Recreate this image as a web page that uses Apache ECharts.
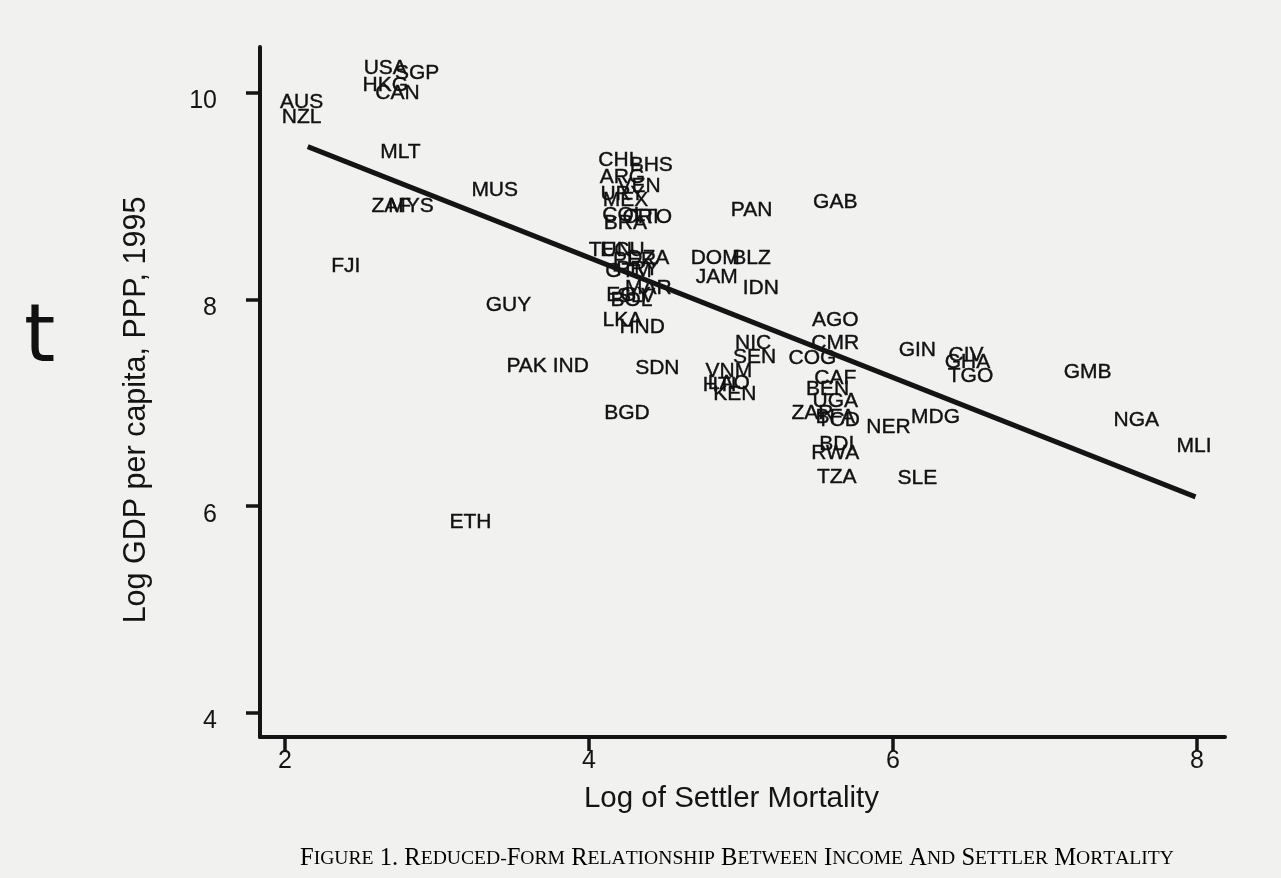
<!DOCTYPE html>
<html>
<head>
<meta charset="utf-8">
<script src="https://cdn.jsdelivr.net/npm/echarts@6/dist/echarts.min.js"></script>
<style>
html,body{margin:0;padding:0;background:#f1f1f0;}
#chart{width:1281px;height:878px;}
</style>
</head>
<body>
<div id="chart"></div>
<script>
// ---- data ----
const countries = ["AUS","NZL","USA","SGP","HKG","CAN","MLT","MUS","ZAF","MYS","FJI","GUY","PAK","IND","ETH",
  "CHL","BHS","ARG","VEN","URY","MEX","COL","CRI","TTO","BRA",
  "TUN","ECU","DZA","PER","GTM","PRY","MAR","EGY","BOL","SLV","LKA","HND",
  "SDN","BGD","PAN","GAB","DOM","BLZ","JAM","IDN","AGO",
  "NIC","SEN","VNM","HTI","LAO","KEN","COG","CMR","CAF","BEN","UGA","ZAR","BFA","TCD","NER","BDI","RWA","TZA",
  "GIN","CIV","GHA","TGO","GMB","MDG","NGA","MLI","SLE"];
const logMortality = [2.11,2.11,2.66,2.87,2.66,2.74,2.76,3.38,2.70,2.83,2.40,3.47,3.59,3.88,3.22,
  4.20,4.41,4.22,4.33,4.22,4.24,4.23,4.34,4.41,4.24,
  4.14,4.22,4.39,4.30,4.26,4.32,4.39,4.26,4.28,4.31,4.22,4.35,
  4.45,4.25,5.07,5.62,4.83,5.07,4.84,5.13,5.62,
  5.08,5.09,4.92,4.86,4.92,4.96,5.47,5.62,5.62,5.57,5.62,5.47,5.62,5.64,5.97,5.63,5.62,5.63,
  6.16,6.48,6.49,6.51,7.28,6.28,7.60,7.98,6.16];
const logGDP = [9.91,9.77,10.24,10.19,10.08,10.00,9.43,9.06,8.90,8.90,8.32,7.95,7.36,7.36,5.85,
  9.35,9.30,9.18,9.10,9.02,8.96,8.82,8.80,8.80,8.74,
  8.48,8.48,8.40,8.38,8.27,8.29,8.11,8.04,7.99,8.03,7.80,7.73,
  7.34,6.90,8.87,8.94,8.40,8.40,8.22,8.11,7.80,
  7.58,7.44,7.31,7.17,7.19,7.08,7.43,7.58,7.24,7.13,7.02,6.90,6.86,6.83,6.76,6.60,6.51,6.28,
  7.51,7.46,7.39,7.26,7.30,6.86,6.83,6.58,6.27];
// fitted regression line endpoints
const fitX = [2.15, 7.99];
const fitY = [9.48, 6.09];
const xTicks = [2, 4, 6, 8];
const yTicks = [4, 6, 8, 10];
const xTitle = "Log of Settler Mortality";
const yTitle = "Log GDP per capita, PPP, 1995";
const caption = "FIGURE 1. REDUCED-FORM RELATIONSHIP BETWEEN INCOME AND SETTLER MORTALITY";

// ---- build ----
const pts = countries.map((c, i) => [logMortality[i], logGDP[i], c]);
const fitLine = fitX.map((x, i) => [x, fitY[i]]);

function smallCaps(str) {
  let out = '';
  let startWord = true;
  for (const ch of str) {
    if (/[A-Z]/.test(ch)) {
      out += startWord ? '{b|' + ch + '}' : '{s|' + ch + '}';
      startWord = false;
    } else if (ch === ' ') {
      out += '{b| }';
      startWord = true;
    } else if (ch === '-') {
      out += '{s|-}';
      startWord = true;
    } else {
      out += '{b|' + ch + '}';
      startWord = false;
    }
  }
  return out;
}

const ink = '#141414';
const chart = echarts.init(document.getElementById('chart'));
chart.setOption({
  backgroundColor: '#f1f1f0',
  animation: false,
  grid: { left: 260, right: 56, top: 47, bottom: 141 },
  xAxis: {
    type: 'value', min: 1.836, max: 8.184,
    splitLine: { show: false },
    axisLine: { show: true, onZero: false, lineStyle: { color: ink, width: 4 } },
    axisTick: { show: true, customValues: xTicks, length: 14, lineStyle: { color: ink, width: 3.5 } },
    axisLabel: { customValues: xTicks, color: ink, fontFamily: 'Liberation Sans', fontSize: 25, margin: 12 },
    name: xTitle, nameLocation: 'middle', nameGap: 47,
    nameTextStyle: { color: ink, fontFamily: 'Liberation Sans', fontSize: 29.5, padding: [0, 22, 0, 0] }
  },
  yAxis: {
    type: 'value', min: 3.766, max: 10.445,
    splitLine: { show: false },
    axisLine: { show: true, onZero: false, lineStyle: { color: ink, width: 4 } },
    axisTick: { show: true, customValues: yTicks, length: 14, lineStyle: { color: ink, width: 3.5 } },
    axisLabel: { customValues: yTicks, color: ink, fontFamily: 'Liberation Sans', fontSize: 25, margin: 43,
      verticalAlign: 'top', lineHeight: 17 },
    name: yTitle, nameLocation: 'middle', nameGap: 108, nameRotate: 90,
    nameTextStyle: { color: ink, fontFamily: 'Liberation Sans', fontSize: 30.5, padding: [0, 36, 0, 0] }
  },
  series: [
    {
      type: 'scatter', data: pts, symbolSize: 0.01, silent: true,
      itemStyle: { color: ink, opacity: 1 },
      label: {
        show: true, position: 'inside', formatter: p => p.data[2],
        color: '#111', opacity: 1, fontFamily: 'Liberation Sans', fontSize: 21,
        textBorderColor: '#111', textBorderWidth: 0.4
      },
      z: 3
    },
    {
      type: 'line', data: fitLine, symbol: 'none', silent: true,
      lineStyle: { color: ink, width: 5 }, z: 4
    }
  ],
  graphic: [
    {
      type: 'text', left: 300, top: 846,
      style: {
        text: smallCaps(caption),
        rich: {
          b: { fontFamily: 'Liberation Serif', fontSize: 24.6, color: '#1a1a1a' },
          s: { fontFamily: 'Liberation Serif', fontSize: 19.6, color: '#1a1a1a' }
        }
      }
    },
    {
      type: 'text', left: 24, top: 300,
      style: { text: 't', fontFamily: 'DejaVu Sans', fontSize: 80, fill: '#111' }
    }
  ]
});
</script>
</body>
</html>
